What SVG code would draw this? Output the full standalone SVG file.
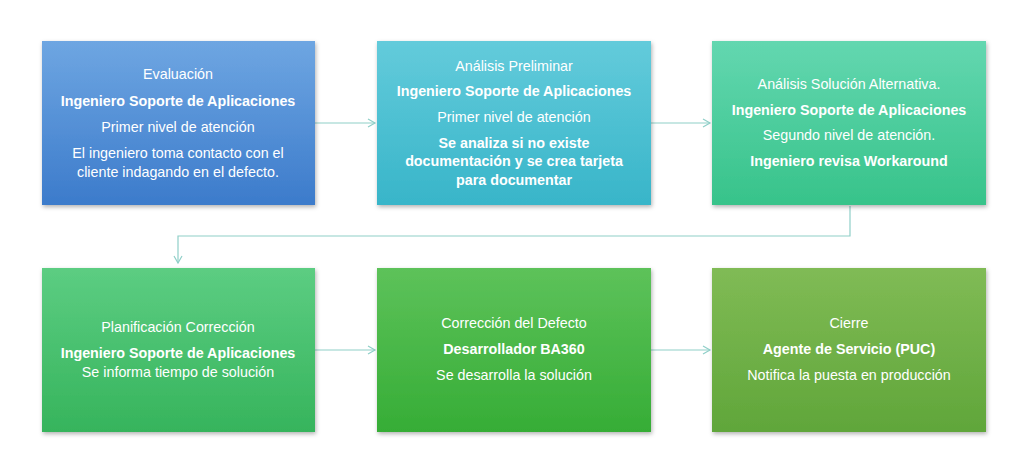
<svg xmlns="http://www.w3.org/2000/svg" width="1016" height="476" viewBox="0 0 1016 476">
<style>
text{font-family:"Liberation Sans",Arial,sans-serif;font-size:14.3px;fill:#fff;text-anchor:middle}
.b{font-weight:bold}
.c{fill:none;stroke:#8fcfc8;stroke-width:1.2}
</style>
<defs>
<linearGradient id="g1" x1="0" y1="0" x2="0" y2="1"><stop offset="0" stop-color="#6ea6e2"/><stop offset="1" stop-color="#3c7bcb"/></linearGradient>
<linearGradient id="g2" x1="0" y1="0" x2="0" y2="1"><stop offset="0" stop-color="#63cbdb"/><stop offset="1" stop-color="#38b5c9"/></linearGradient>
<linearGradient id="g3" x1="0" y1="0" x2="0" y2="1"><stop offset="0" stop-color="#63d7b0"/><stop offset="1" stop-color="#37c38a"/></linearGradient>
<linearGradient id="g4" x1="0" y1="0" x2="0" y2="1"><stop offset="0" stop-color="#5ccd82"/><stop offset="1" stop-color="#36b45c"/></linearGradient>
<linearGradient id="g5" x1="0" y1="0" x2="0" y2="1"><stop offset="0" stop-color="#5dc25a"/><stop offset="1" stop-color="#36ad36"/></linearGradient>
<linearGradient id="g6" x1="0" y1="0" x2="0" y2="1"><stop offset="0" stop-color="#80bb55"/><stop offset="1" stop-color="#60a63a"/></linearGradient>
<filter id="sh" x="-10%" y="-10%" width="120%" height="125%"><feDropShadow dx="1" dy="2" stdDeviation="2" flood-opacity="0.3"/></filter>
<marker id="ar" markerWidth="10" markerHeight="10" refX="8" refY="5" orient="auto" markerUnits="userSpaceOnUse"><path d="M1,1 L8,5 L1,9" fill="none" stroke="#8fcfc8" stroke-width="1.2"/></marker>
</defs>
<rect width="1016" height="476" fill="#fff"/>
<g id="connectors">
<path class="c" d="M315,123 H375" marker-end="url(#ar)"/>
<path class="c" d="M651,123 H710" marker-end="url(#ar)"/>
<path class="c" d="M850,206 V236 H178 V263" marker-end="url(#ar)"/>
<path class="c" d="M315,350 H375" marker-end="url(#ar)"/>
<path class="c" d="M651,350 H710" marker-end="url(#ar)"/>
</g>
<g id="n1"><rect x="42" y="41" width="273" height="164" fill="url(#g1)" filter="url(#sh)"/>
<text x="178" y="79">Evaluación</text><text class="b" x="178" y="106">Ingeniero Soporte de Aplicaciones</text><text x="178" y="132">Primer nivel de atención</text><text x="178" y="158">El ingeniero toma contacto con el</text><text x="178" y="177">cliente indagando en el defecto.</text></g>
<g id="n2"><rect x="377" y="41" width="274" height="164" fill="url(#g2)" filter="url(#sh)"/>
<text x="514" y="71">Análisis Preliminar</text><text class="b" x="514" y="96">Ingeniero Soporte de Aplicaciones</text><text x="514" y="122">Primer nivel de atención</text><text class="b" x="514" y="148">Se analiza si no existe</text><text class="b" x="514" y="166">documentación y se crea tarjeta</text><text class="b" x="514" y="185">para documentar</text></g>
<g id="n3"><rect x="712" y="41" width="274" height="164" fill="url(#g3)" filter="url(#sh)"/>
<text x="849" y="89">Análisis Solución Alternativa.</text><text class="b" x="849" y="115">Ingeniero Soporte de Aplicaciones</text><text x="849" y="140">Segundo nivel de atención.</text><text class="b" x="849" y="166">Ingeniero revisa Workaround</text></g>
<g id="n4"><rect x="42" y="268" width="273" height="164" fill="url(#g4)" filter="url(#sh)"/>
<text x="178" y="332">Planificación Corrección</text><text class="b" x="178" y="358">Ingeniero Soporte de Aplicaciones</text><text x="178" y="377">Se informa tiempo de solución</text></g>
<g id="n5"><rect x="377" y="268" width="274" height="164" fill="url(#g5)" filter="url(#sh)"/>
<text x="514" y="328">Corrección del Defecto</text><text class="b" x="514" y="354">Desarrollador BA360</text><text x="514" y="380">Se desarrolla la solución</text></g>
<g id="n6"><rect x="712" y="268" width="274" height="164" fill="url(#g6)" filter="url(#sh)"/>
<text x="849" y="328">Cierre</text><text class="b" x="849" y="354">Agente de Servicio (PUC)</text><text x="849" y="380">Notifica la puesta en producción</text></g>
</svg>
